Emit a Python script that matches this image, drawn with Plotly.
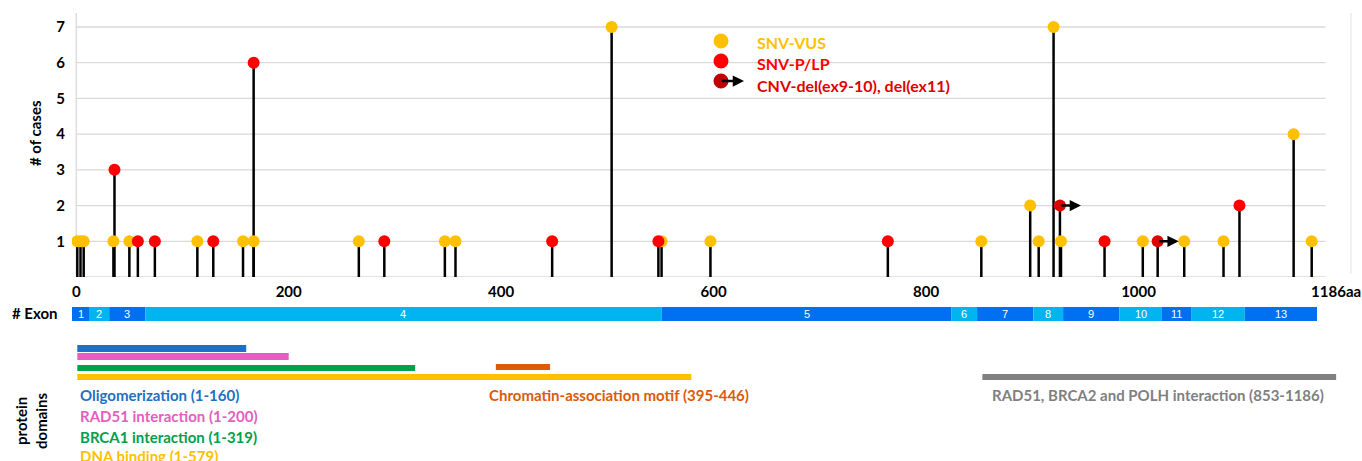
import plotly.graph_objects as go

# ---- variant data: position (aa) and plotted case level ----
vus_pos = [1, 4, 7, 35, 50, 114, 157, 167, 266, 347, 357, 504, 551, 597,
           852, 898, 906, 920, 927, 1004, 1043, 1080, 1146, 1163]
vus_cnt = [1, 1, 1, 1, 1, 1, 1, 1, 1, 1, 1, 7, 1, 1,
           1, 2, 1, 7, 1, 1, 1, 1, 4, 1]

plp_pos = [36, 58, 74, 129, 167, 290, 448, 548, 764, 968, 1095]
plp_cnt = [3, 1, 1, 1, 6, 1, 1, 1, 1, 1, 2]

cnv_pos = [926, 1018]
cnv_cnt = [2, 1]

# ---- exon track ----
exon_names = [str(i) for i in range(1, 14)]
exon_bounds = [-4, 12, 31, 65, 551, 824, 848, 901, 929, 982, 1022, 1050, 1100, 1168]

# ---- protein domains ----
domain_names = ["Oligomerization (1-160)", "RAD51 interaction (1-200)",
                "BRCA1 interaction (1-319)", "DNA binding (1-579)",
                "Chromatin-association motif (395-446)",
                "RAD51, BRCA2 and POLH interaction (853-1186)"]
domain_start = [1, 1, 1, 1, 395, 853]
domain_end = [160, 200, 319, 579, 446, 1186]
domain_colors = ["#1F6FC2", "#E35EC0", "#00A04E", "#FFC000", "#DD5A08", "#808080"]

x_ticks = [0, 200, 400, 600, 800, 1000, 1186]
x_ticktext = ["0", "200", "400", "600", "800", "1000", "1186aa"]
y_ticks = [1, 2, 3, 4, 5, 6, 7]

# ---- geometry ----
W, H = 1362, 461
ML, MR, MT, MB = 72, 11, 13, 0
PW, PH = W - ML - MR, H - MT - MB
X_RANGE = [-4, 1200]
Y_TOP = 7.392
MAIN_BOTTOM = 184 / PH   # paper fraction where the case axis starts
GRID_END = 1176

FONT = "Lato"
YELLOW, RED, CNV_RED, DARK_RED = "#FFC000", "#FF0000", "#E00000", "#C00000"


def px_x(px):
    return (px - ML) / PW


def px_y(py):
    return (H - MB - py) / PH


def stems(pos, cnt):
    xs, ys = [], []
    for p, c in zip(pos, cnt):
        xs += [p, p, None]
        ys += [0, c, None]
    return xs, ys


def label(x, y, text, size, color, xanchor="center", angle=0, xref="paper"):
    return dict(x=x, y=y, xref=xref, yref="paper", text=text, showarrow=False,
                xanchor=xanchor, yanchor="middle", textangle=angle,
                font=dict(family=FONT, size=size, color=color, weight="bold"))


fig = go.Figure()

all_pos = vus_pos + plp_pos + cnv_pos
all_cnt = vus_cnt + plp_cnt + cnv_cnt
sx, sy = stems(all_pos, all_cnt)
fig.add_trace(go.Scatter(x=sx, y=sy, mode="lines",
                         line=dict(color="black", width=2.5),
                         hoverinfo="skip", showlegend=False))

fig.add_trace(go.Scatter(x=vus_pos, y=vus_cnt, mode="markers", name="SNV-VUS",
                         marker=dict(color=YELLOW, size=12), showlegend=False))
fig.add_trace(go.Scatter(x=plp_pos, y=plp_cnt, mode="markers", name="SNV-P/LP",
                         marker=dict(color=RED, size=12), showlegend=False))
fig.add_trace(go.Scatter(x=cnv_pos, y=cnv_cnt, mode="markers", name="CNV",
                         marker=dict(color=CNV_RED, size=12), showlegend=False))

shapes = []
annotations = []

# horizontal grid lines, left axis line and right frame line
for v in [0] + y_ticks:
    shapes.append(dict(type="line", xref="x", yref="y", x0=0, x1=GRID_END,
                       y0=v, y1=v, line=dict(color="#D9D9D9", width=1.3),
                       layer="below"))
shapes.append(dict(type="line", xref="x", yref="y", x0=0, x1=0, y0=0, y1=Y_TOP,
                   line=dict(color="#D9D9D9", width=1.3), layer="below"))
shapes.append(dict(type="line", xref="paper", yref="y", x0=1, x1=1, y0=0.1, y1=Y_TOP,
                   line=dict(color="#E6E6E6", width=1.3), layer="below"))

# arrows marking the CNV deletions
for p, c in zip(cnv_pos, cnv_cnt):
    annotations.append(dict(x=p, y=c, xref="x", yref="y", text="", showarrow=True,
                            ax=-21, ay=0, xshift=21, arrowhead=2, arrowsize=0.9,
                            arrowwidth=2.5, arrowcolor="black",
                            standoff=0, startstandoff=0))

# legend
legend_items = [("SNV-VUS", YELLOW, YELLOW, 41, 43),
                ("SNV-P/LP", RED, RED, 61, 64),
                ("CNV-del(ex9-10), del(ex11)", DARK_RED, "#E00000", 81, 85)]
for text, mcol, tcol, cy, ty in legend_items:
    r = 7.5
    shapes.append(dict(type="circle", xref="paper", yref="paper",
                       x0=px_x(721 - r), x1=px_x(721 + r),
                       y0=px_y(cy + r), y1=px_y(cy - r),
                       fillcolor=mcol, line=dict(width=0)))
    annotations.append(label(px_x(755), px_y(ty), text, 16, tcol, xanchor="left"))
annotations.append(dict(x=px_x(744), y=px_y(81), xref="paper", yref="paper",
                        text="", showarrow=True, ax=-24, ay=0, arrowhead=2,
                        arrowsize=0.9, arrowwidth=2.5, arrowcolor="black",
                        standoff=0, startstandoff=0))

# exon track
for i, name in enumerate(exon_names):
    x0, x1 = exon_bounds[i], exon_bounds[i + 1]
    col = "#0070F0" if i % 2 == 0 else "#00B4F0"
    shapes.append(dict(type="rect", xref="x", yref="paper", x0=x0, x1=x1,
                       y0=px_y(321), y1=px_y(307), fillcolor=col,
                       line=dict(width=0)))
    annotations.append(dict(x=(x0 + x1) / 2, y=px_y(314), xref="x", yref="paper",
                            text=name, showarrow=False, xanchor="center",
                            yanchor="middle",
                            font=dict(family="Liberation Sans Narrow, Liberation Sans",
                                      size=11, color="white")))
annotations.append(label(px_x(35), px_y(313), "# Exon", 15, "black"))

# protein domain bars and labels
bar_rows = [(345, 352), (353, 360), (365, 371), (374, 380), (364, 370), (374, 380)]
label_pos = [(78, 395), (78, 416), (78, 437), (78, 456), (487, 395), (990, 395)]
for name, s, e, col, (ya, yb), (lx, ly) in zip(domain_names, domain_start, domain_end,
                                                domain_colors, bar_rows, label_pos):
    shapes.append(dict(type="rect", xref="x", yref="paper", x0=s, x1=e,
                       y0=px_y(yb), y1=px_y(ya), fillcolor=col, line=dict(width=0)))
    annotations.append(label(px_x(lx), px_y(ly), name, 15, col, xanchor="left"))
annotations.append(label(px_x(31), px_y(421), "protein<br>domains", 15, "black",
                         angle=-90))

# y-axis title
annotations.append(label(px_x(35), px_y(133), "# of cases", 15, "black", angle=-90))

fig.update_layout(
    width=W, height=H, autosize=False,
    margin=dict(l=ML, r=MR, t=MT, b=MB, pad=0),
    plot_bgcolor="white", paper_bgcolor="white",
    shapes=shapes, annotations=annotations,
    showlegend=False,
    xaxis=dict(range=X_RANGE, tickvals=x_ticks, ticktext=x_ticktext,
               showgrid=False, zeroline=False, showline=False, ticks="",
               ticklabelstandoff=4, anchor="y",
               tickfont=dict(family=FONT, size=15, color="black", weight="bold")),
    yaxis=dict(range=[0, Y_TOP], domain=[MAIN_BOTTOM, 1], tickvals=y_ticks,
               showgrid=False, zeroline=False, showline=False, ticks="",
               ticklabelstandoff=6,
               tickfont=dict(family=FONT, size=15, color="black", weight="bold")),
)

fig.write_html("out.html")
